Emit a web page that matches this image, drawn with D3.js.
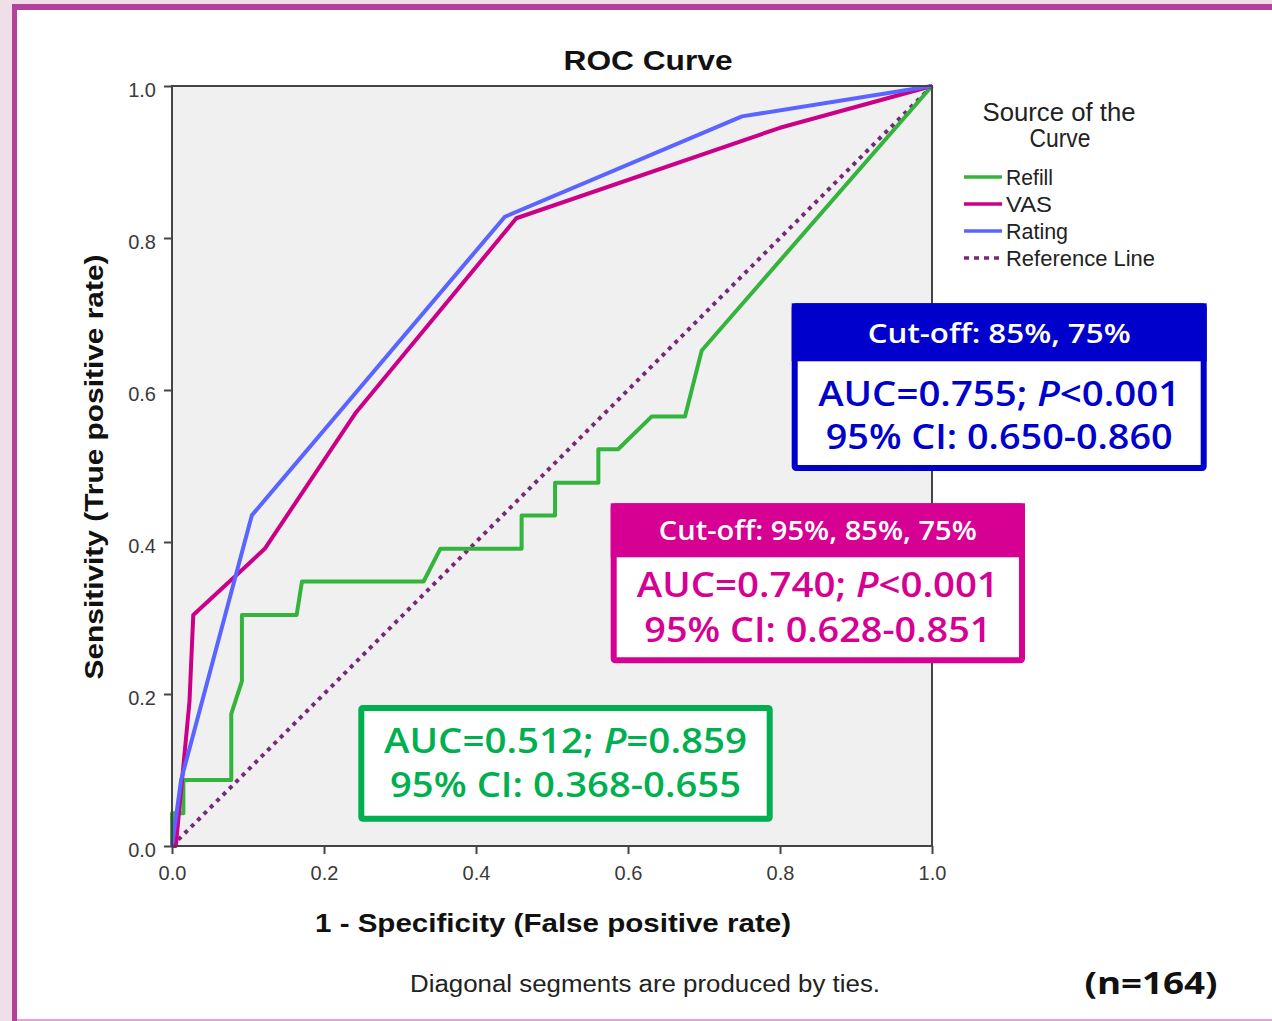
<!DOCTYPE html>
<html lang="en">
<head>
    <meta charset="UTF-8">
    <title>ROC Curve</title>
    <style>
        html, body { margin: 0; padding: 0; background: #f0dee8; }
        svg { display: block; }
    </style>
</head>
<body>
    <svg id="chart" width="1272" height="1021"></svg>

    <script src="https://d3js.org/d3.v7.min.js"></script>
    <script>
        // ROC points: 1 - specificity and sensitivity
        const refillFpr = [0, 0, 0.015, 0.015, 0.078, 0.078, 0.092, 0.092, 0.164, 0.171, 0.331, 0.353, 0.46, 0.46, 0.504, 0.504, 0.561, 0.561, 0.587, 0.631, 0.675, 0.697, 1];
        const refillTpr = [0, 0.043, 0.043, 0.087, 0.087, 0.174, 0.217, 0.304, 0.304, 0.348, 0.348, 0.391, 0.391, 0.435, 0.435, 0.478, 0.478, 0.522, 0.522, 0.565, 0.565, 0.652, 1];
        const vasFpr = [0, 0.005, 0.023, 0.028, 0.122, 0.241, 0.453, 0.80, 1];
        const vasTpr = [0, 0, 0.19, 0.304, 0.391, 0.569, 0.826, 0.945, 1];
        const ratingFpr = [0, 0.012, 0.105, 0.438, 0.75, 1];
        const ratingTpr = [0, 0.087, 0.435, 0.828, 0.96, 1];
        const refFpr = [0, 1];
        const refTpr = [0, 1];

        const tickValues = [0, 0.2, 0.4, 0.6, 0.8, 1.0];
        const legendNames = ["Refill", "VAS", "Rating", "Reference Line"];

        const boxes = [
            { header: "Cut-off: 85%, 75%", auc: "0.755", p: "<0.001", ci: "0.650-0.860" },
            { header: "Cut-off: 95%, 85%, 75%", auc: "0.740", p: "<0.001", ci: "0.628-0.851" },
            { header: null, auc: "0.512", p: "=0.859", ci: "0.368-0.655" }
        ];

        const svg = d3.select("#chart");

        // page frame
        svg.append("rect").attr("x", 12).attr("y", 4).attr("width", 1300).attr("height", 1030).attr("fill", "#b5409a");
        svg.append("rect").attr("x", 17).attr("y", 10).attr("width", 1300).attr("height", 1009).attr("fill", "#ffffff");
        svg.append("line").attr("x1", 17).attr("x2", 1272).attr("y1", 1020).attr("y2", 1020)
            .attr("stroke", "#e3a4d4").attr("stroke-width", 2);

        const plotLeft = 172, plotRight = 932, plotTop = 86, plotBottom = 846;

        const x = d3.scaleLinear().domain([0, 1]).range([plotLeft, plotRight]);
        const y = d3.scaleLinear().domain([0, 1]).range([plotBottom, plotTop]);

        // plot background
        svg.append("rect")
            .attr("x", plotLeft).attr("y", plotTop)
            .attr("width", plotRight - plotLeft).attr("height", plotBottom - plotTop)
            .attr("fill", "#f0f0f0");

        // axes
        const yAxis = svg.append("g")
            .attr("transform", `translate(${plotLeft},0)`)
            .call(d3.axisLeft(y).tickValues(tickValues).tickFormat(d3.format(".1f")).tickSize(8).tickSizeOuter(0).tickPadding(8));
        const xAxis = svg.append("g")
            .attr("transform", `translate(0,${plotBottom})`)
            .call(d3.axisBottom(x).tickValues(tickValues).tickFormat(d3.format(".1f")).tickSize(8).tickSizeOuter(0).tickPadding(8));

        [xAxis, yAxis].forEach(a => {
            a.select(".domain").remove();
            a.selectAll(".tick line").attr("stroke", "#444").attr("stroke-width", 2);
            a.selectAll(".tick text")
                .attr("font-family", "'Liberation Sans', Arial, sans-serif")
                .attr("font-size", 20)
                .attr("fill", "#3a3a3a");
        });
        yAxis.selectAll(".tick text").attr("dy", "0.5em");
        xAxis.selectAll(".tick text").attr("dy", "0.9em");

        // reference line and curves
        const line = d3.line().x(d => x(d[0])).y(d => y(d[1]));
        const pairs = (fx, ty) => fx.map((v, i) => [v, ty[i]]);

        svg.append("path")
            .attr("d", line(pairs(refFpr, refTpr)))
            .attr("fill", "none").attr("stroke", "#782878")
            .attr("stroke-width", 4).attr("stroke-dasharray", "4,5");

        const curves = [
            { fpr: refillFpr, tpr: refillTpr, color: "#33b43c" },
            { fpr: vasFpr, tpr: vasTpr, color: "#cc0088" },
            { fpr: ratingFpr, tpr: ratingTpr, color: "#5a64ff" }
        ];

        curves.forEach(c => {
            svg.append("path")
                .attr("d", line(pairs(c.fpr, c.tpr)))
                .attr("fill", "none")
                .attr("stroke", c.color)
                .attr("stroke-width", 4)
                .attr("stroke-linejoin", "round");
        });

        // frame round the plot
        svg.append("rect")
            .attr("x", plotLeft).attr("y", plotTop)
            .attr("width", plotRight - plotLeft).attr("height", plotBottom - plotTop)
            .attr("fill", "none").attr("stroke", "#444").attr("stroke-width", 2);

        // titles
        const arial = "'Liberation Sans', Arial, sans-serif";
        svg.append("text")
            .attr("x", 648).attr("y", 70)
            .attr("text-anchor", "middle")
            .attr("font-family", arial).attr("font-weight", "bold").attr("font-size", 27)
            .attr("fill", "#111")
            .attr("textLength", 169).attr("lengthAdjust", "spacingAndGlyphs")
            .text("ROC Curve");

        svg.append("text")
            .attr("x", 553).attr("y", 932)
            .attr("text-anchor", "middle")
            .attr("font-family", arial).attr("font-weight", "bold").attr("font-size", 25)
            .attr("fill", "#111")
            .attr("textLength", 476).attr("lengthAdjust", "spacingAndGlyphs")
            .text("1 - Specificity (False positive rate)");

        svg.append("text")
            .attr("transform", "translate(103,467) rotate(-90)")
            .attr("text-anchor", "middle")
            .attr("font-family", arial).attr("font-weight", "bold").attr("font-size", 25)
            .attr("fill", "#111")
            .attr("textLength", 425).attr("lengthAdjust", "spacingAndGlyphs")
            .text("Sensitivity (True positive rate)");

        svg.append("text")
            .attr("x", 645).attr("y", 992)
            .attr("text-anchor", "middle")
            .attr("font-family", arial).attr("font-size", 23)
            .attr("fill", "#222")
            .attr("textLength", 470).attr("lengthAdjust", "spacingAndGlyphs")
            .text("Diagonal segments are produced by ties.");

        svg.append("text")
            .attr("x", 1151).attr("y", 994)
            .attr("text-anchor", "middle")
            .attr("font-family", "'Open Sans', sans-serif").attr("font-weight", "bold").attr("font-size", 31)
            .attr("fill", "#111")
            .attr("textLength", 133).attr("lengthAdjust", "spacingAndGlyphs")
            .text("(n=164)");

        // legend
        svg.append("text")
            .attr("x", 1059).attr("y", 121)
            .attr("text-anchor", "middle")
            .attr("font-family", arial).attr("font-size", 25).attr("fill", "#222")
            .attr("textLength", 153).attr("lengthAdjust", "spacingAndGlyphs")
            .text("Source of the");
        svg.append("text")
            .attr("x", 1060).attr("y", 147)
            .attr("text-anchor", "middle")
            .attr("font-family", arial).attr("font-size", 25).attr("fill", "#222")
            .attr("textLength", 61).attr("lengthAdjust", "spacingAndGlyphs")
            .text("Curve");

        const legendColors = ["#33b43c", "#cc0088", "#5a64ff", "#782878"];
        const legendWidths = [47, 46, 62, 149];
        const legendY = d3.scalePoint().domain(legendNames).range([177, 258]);

        const leg = svg.selectAll(".leg")
            .data(legendNames)
            .enter()
            .append("g")
            .attr("class", "leg")
            .attr("transform", d => `translate(0,${legendY(d)})`);

        leg.append("line")
            .attr("x1", 964).attr("x2", 1002)
            .attr("stroke", (d, i) => legendColors[i])
            .attr("stroke-width", 3.5)
            .attr("stroke-dasharray", (d, i) => i === 3 ? "5,5" : null);

        leg.append("text")
            .attr("x", 1006).attr("y", 8)
            .attr("font-family", arial).attr("font-size", 22).attr("fill", "#222")
            .attr("textLength", (d, i) => legendWidths[i]).attr("lengthAdjust", "spacingAndGlyphs")
            .text(d => d);

        // annotation boxes
        const boxFont = "'Open Sans', 'Noto Sans', sans-serif";
        const boxLayout = [
            { x0: 791.7, y0: 303.3, x1: 1206.7, y1: 471, head: 58, color: "#0000cc", hy: 343, l1: 405.5, l2: 449, hw: 263, w1: 362, w2: 347 },
            { x0: 610.7, y0: 503.3, x1: 1025, y1: 663.3, head: 54, color: "#d60093", hy: 540, l1: 596.7, l2: 641.7, hw: 318, w1: 362, w2: 347 },
            { x0: 358.3, y0: 705, x1: 772.7, y1: 821.7, head: 0, color: "#00b050", hy: 0, l1: 753.3, l2: 796.7, hw: 0, w1: 363, w2: 351 }
        ];

        boxes.forEach((b, i) => {
            const L = boxLayout[i];
            const g = svg.append("g");
            const cx = (L.x0 + L.x1) / 2;
            g.append("rect")
                .attr("x", L.x0 + 3).attr("y", L.y0 + 3)
                .attr("width", L.x1 - L.x0 - 6).attr("height", L.y1 - L.y0 - 6)
                .attr("rx", 1.5)
                .attr("fill", "#ffffff").attr("stroke", L.color).attr("stroke-width", 6);
            if (b.header) {
                g.append("rect")
                    .attr("x", L.x0).attr("y", L.y0)
                    .attr("width", L.x1 - L.x0).attr("height", L.head)
                    .attr("fill", L.color);
                g.append("text")
                    .attr("x", cx).attr("y", L.hy)
                    .attr("text-anchor", "middle")
                    .attr("font-family", boxFont).attr("font-weight", 600).attr("font-size", 27)
                    .attr("fill", "#ffffff")
                    .attr("textLength", L.hw).attr("lengthAdjust", "spacingAndGlyphs")
                    .text(b.header);
            }
            const t1 = g.append("text")
                .attr("x", cx).attr("y", L.l1)
                .attr("text-anchor", "middle")
                .attr("font-family", boxFont).attr("font-weight", 600).attr("font-size", 34)
                .attr("fill", L.color)
                .attr("textLength", L.w1).attr("lengthAdjust", "spacingAndGlyphs");
            t1.append("tspan").text(`AUC=${b.auc}; `);
            t1.append("tspan").attr("font-style", "italic").text("P");
            t1.append("tspan").text(b.p);

            g.append("text")
                .attr("x", cx).attr("y", L.l2)
                .attr("text-anchor", "middle")
                .attr("font-family", boxFont).attr("font-weight", 600).attr("font-size", 34)
                .attr("fill", L.color)
                .attr("textLength", L.w2).attr("lengthAdjust", "spacingAndGlyphs")
                .text(`95% CI: ${b.ci}`);
        });
    </script>
</body>
</html>
